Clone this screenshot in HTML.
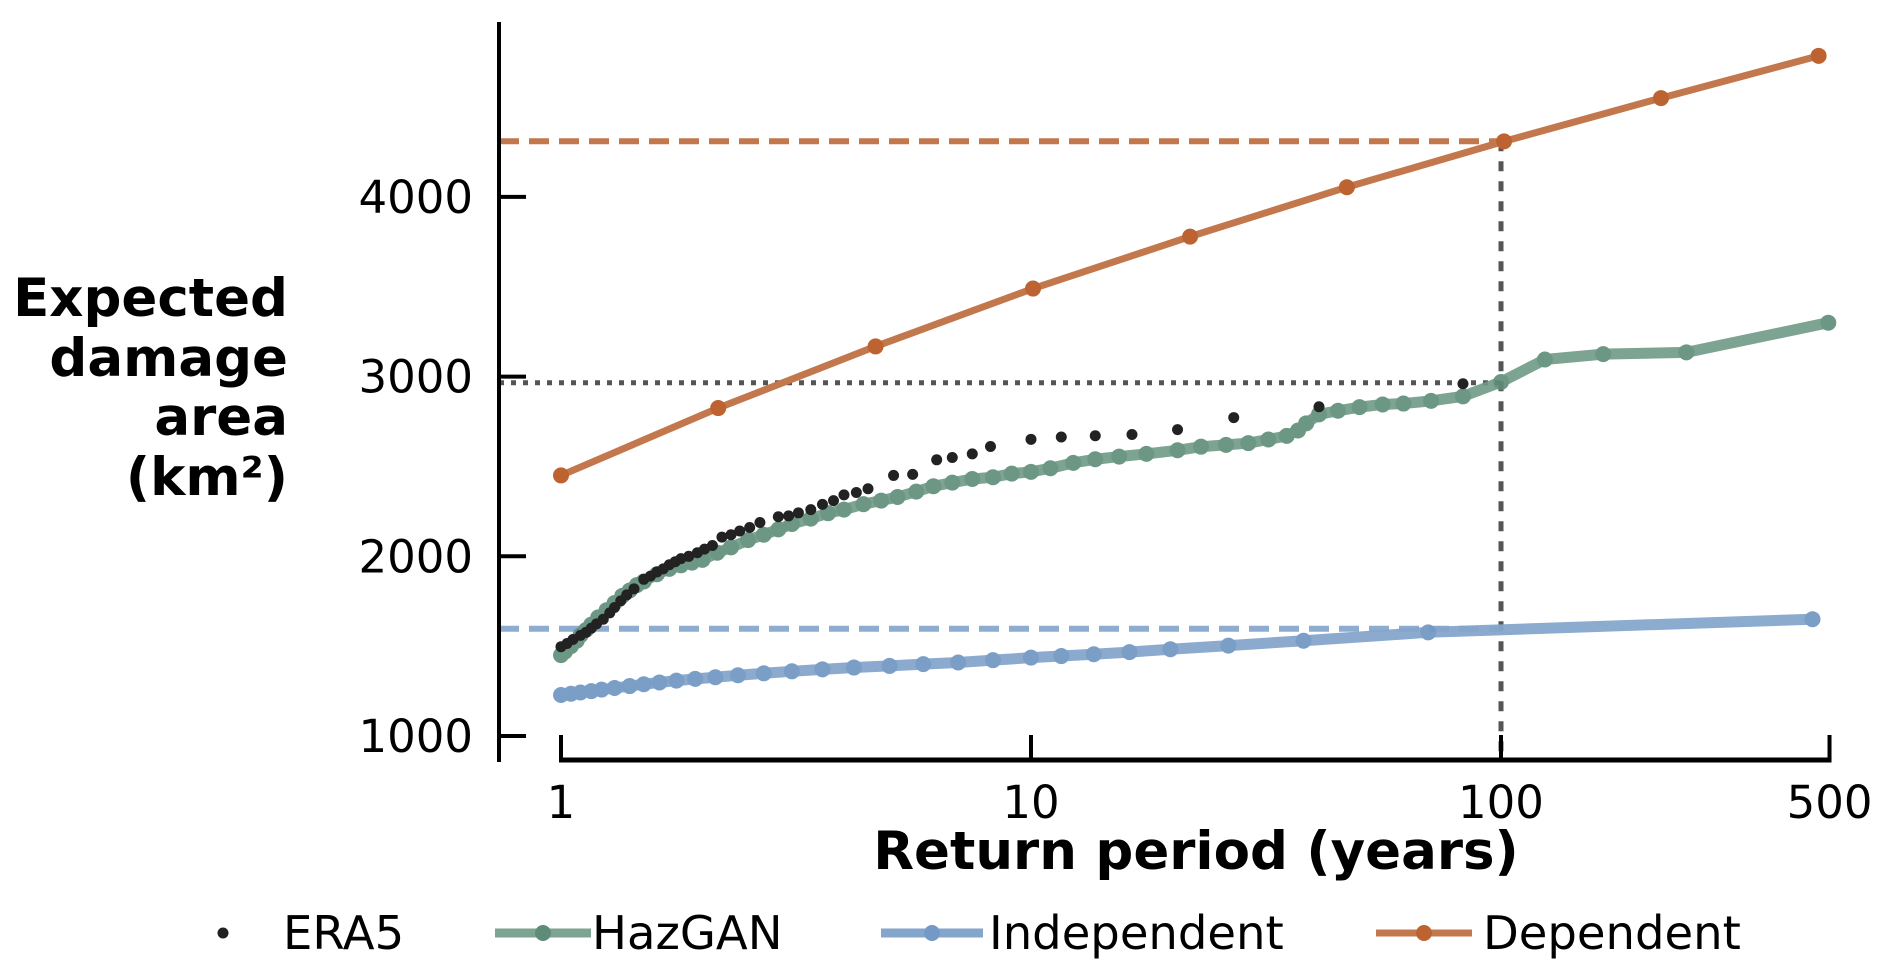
<!DOCTYPE html>
<html><head><meta charset="utf-8"><style>
html,body{margin:0;padding:0;background:#fff;}
svg{display:block;font-family:"DejaVu Sans","Liberation Sans",sans-serif;}
</style></head><body>
<svg id="chart" width="1892" height="977" viewBox="0 0 1892 977" xmlns="http://www.w3.org/2000/svg">
<g id="marks"></g>
<g id="axes"></g>
<g font-weight="bold" font-size="53" text-anchor="end" fill="#000">
<text x="288" y="316">Expected</text><text x="288" y="376">damage</text><text x="288" y="435">area</text><text x="288" y="495">(km²)</text>
</g>
<text x="1196" y="869" font-size="53" font-weight="bold" text-anchor="middle">Return period (years)</text>
<g id="legend" font-size="46.5">
<g><circle cx="223" cy="933" r="5.5" fill="#222"/><text x="283" y="949">ERA5</text></g>
<g><line x1="495" y1="933" x2="591" y2="933" stroke="#6f9a87" stroke-width="9" opacity="0.9"/><circle cx="543" cy="933" r="8" fill="#5e8c78"/><text x="592" y="949">HazGAN</text></g>
<g><line x1="881" y1="933" x2="983" y2="933" stroke="#85a6cc" stroke-width="9"/><circle cx="932" cy="933" r="8" fill="#7399c4"/><text x="989" y="949">Independent</text></g>
<g><line x1="1376" y1="933" x2="1472" y2="933" stroke="#c3774d" stroke-width="7"/><circle cx="1424" cy="933" r="8" fill="#bd6331"/><text x="1483" y="949">Dependent</text></g>
</g>
</svg>
<script>
const xTicks=[1,10,100,500];
const yTicks=[1000,2000,3000,4000];
const depT=[1,2.16,4.67,10.1,21.8,47,101.5,219,474];
const depV=[2450,2825,3168,3490,3779,4054,4309,4550,4785];
const hazT=[1.0,1.02,1.05,1.08,1.1,1.13,1.16,1.2,1.25,1.3,1.35,1.4,1.45,1.5,1.6,1.7,1.8,1.9,2.0,2.15,2.3,2.5,2.7,2.9,3.1,3.4,3.7,4.0,4.4,4.8,5.2,5.7,6.2,6.8,7.5,8.3,9.1,10,11,12.3,13.7,15.4,17.6,20.5,23,26,29,32,35,37,38.5,41,45,50,56,62,71,83,100,124,165,248,497];
const hazV=[1450,1470,1500,1530,1560,1590,1620,1660,1700,1740,1780,1810,1840,1860,1900,1930,1950,1965,1980,2020,2050,2090,2120,2150,2180,2210,2240,2260,2290,2310,2330,2360,2390,2410,2430,2440,2460,2470,2490,2520,2540,2555,2570,2590,2610,2620,2630,2650,2670,2700,2740,2790,2810,2830,2845,2850,2865,2890,2970,3095,3125,3135,3300];
const indT=[1,1.05,1.1,1.16,1.22,1.3,1.4,1.5,1.62,1.76,1.93,2.13,2.38,2.7,3.1,3.6,4.2,5.0,5.9,7.0,8.3,10,11.6,13.6,16.2,19.8,26.3,38,70,460];
const indV=[1228,1235,1242,1250,1258,1267,1278,1288,1298,1308,1318,1327,1338,1349,1360,1371,1381,1390,1400,1409,1422,1436,1445,1455,1467,1483,1503,1530,1577,1650];
const eraT=[1.0,1.03,1.06,1.1,1.13,1.16,1.19,1.23,1.27,1.3,1.34,1.38,1.43,1.5,1.55,1.6,1.65,1.7,1.75,1.8,1.87,1.95,2.02,2.1,2.2,2.3,2.4,2.52,2.65,2.9,3.05,3.2,3.4,3.6,3.8,4.0,4.25,4.5,5.1,5.6,6.3,6.8,7.5,8.2,10,11.6,13.7,16.4,20.5,27,41,83];
const eraV=[1497,1515,1537,1560,1577,1600,1624,1650,1685,1715,1752,1785,1819,1872,1890,1913,1930,1953,1970,1987,2000,2020,2040,2060,2107,2120,2141,2160,2188,2220,2225,2242,2260,2289,2310,2342,2355,2376,2450,2456,2537,2550,2570,2611,2651,2664,2671,2678,2705,2772,2832,2960];
const refT=100;
const refDep=4310, refHaz=2966, refInd=1597;

const NS='http://www.w3.org/2000/svg';
const X0=561, DEC=470, Y0=736, YS=0.1797;
function xs(t){return X0+Math.log10(t)*DEC;}
function ys(v){return Y0-(v-1000)*YS;}
function mk(tag,attrs,parent){const e=document.createElementNS(NS,tag);for(const k in attrs)e.setAttribute(k,attrs[k]);parent.appendChild(e);return e;}
const marks=document.getElementById('marks'), axes=document.getElementById('axes');

let l;
l=mk('line',{x1:499,x2:xs(refT),y1:ys(refDep),y2:ys(refDep),stroke:'#c3774d','stroke-width':6,'stroke-dasharray':'20 10'},marks);


l=mk('line',{x1:499,x2:xs(refT),y1:ys(refHaz),y2:ys(refHaz),stroke:'#555','stroke-width':5,'stroke-dasharray':'5 7'},marks);


l=mk('line',{x1:499,x2:xs(refT),y1:ys(refInd),y2:ys(refInd),stroke:'#8eabd0','stroke-width':6,'stroke-dasharray':'20 10'},marks);


l=mk('line',{x1:xs(refT),x2:xs(refT),y1:ys(refDep),y2:760,stroke:'#555','stroke-width':5,'stroke-dasharray':'10 10'},marks);



function series(T,V,name,col,mcol,lw,r,op){
  const g=mk('g',{opacity:op},marks);
  
  
  const p=mk('polyline',{points:T.map((t,i)=>xs(t)+','+ys(V[i])).join(' '),fill:'none',stroke:col,'stroke-width':lw,'stroke-linejoin':'round','stroke-linecap':'round'},g);
  
  
  T.forEach((t,i)=>{const c=mk('circle',{cx:xs(t),cy:ys(V[i]),r:r,fill:mcol},g);
    
    });
}
series(indT,indV,'independent','#85a6cc','#7399c4',11,8,0.95);
series(hazT,hazV,'hazgan','#6f9a87','#5e8c78',11,8,0.9);
series(depT,depV,'dependent','#c3774d','#bd6331',7,8,1);
const eg=mk('g',{},marks);


eraT.forEach((t,i)=>{const c=mk('circle',{cx:xs(t),cy:ys(eraV[i]),r:5.5,fill:'#222'},eg);
  
  });

l=mk('line',{x1:499,x2:499,y1:22,y2:762,stroke:'#000','stroke-width':4},axes);


l=mk('line',{x1:xs(xTicks[0])-2,x2:xs(xTicks[xTicks.length-1])+2,y1:760,y2:760,stroke:'#000','stroke-width':5},axes);


yTicks.forEach(v=>{
  const t=mk('line',{x1:499,x2:526,y1:ys(v),y2:ys(v),stroke:'#000','stroke-width':4},axes);
  
  
  const tx=mk('text',{x:473,y:ys(v)+16,'font-size':45,'text-anchor':'end'},axes);
  tx.textContent=v;
  
  
});
xTicks.forEach(v=>{
  const t=mk('line',{x1:xs(v),x2:xs(v),y1:760,y2:735,stroke:'#000','stroke-width':4},axes);
  
  
  const tx=mk('text',{x:xs(v),y:818,'font-size':45,'text-anchor':'middle'},axes);
  tx.textContent=v;
  
  
});
</script>
</body></html>
